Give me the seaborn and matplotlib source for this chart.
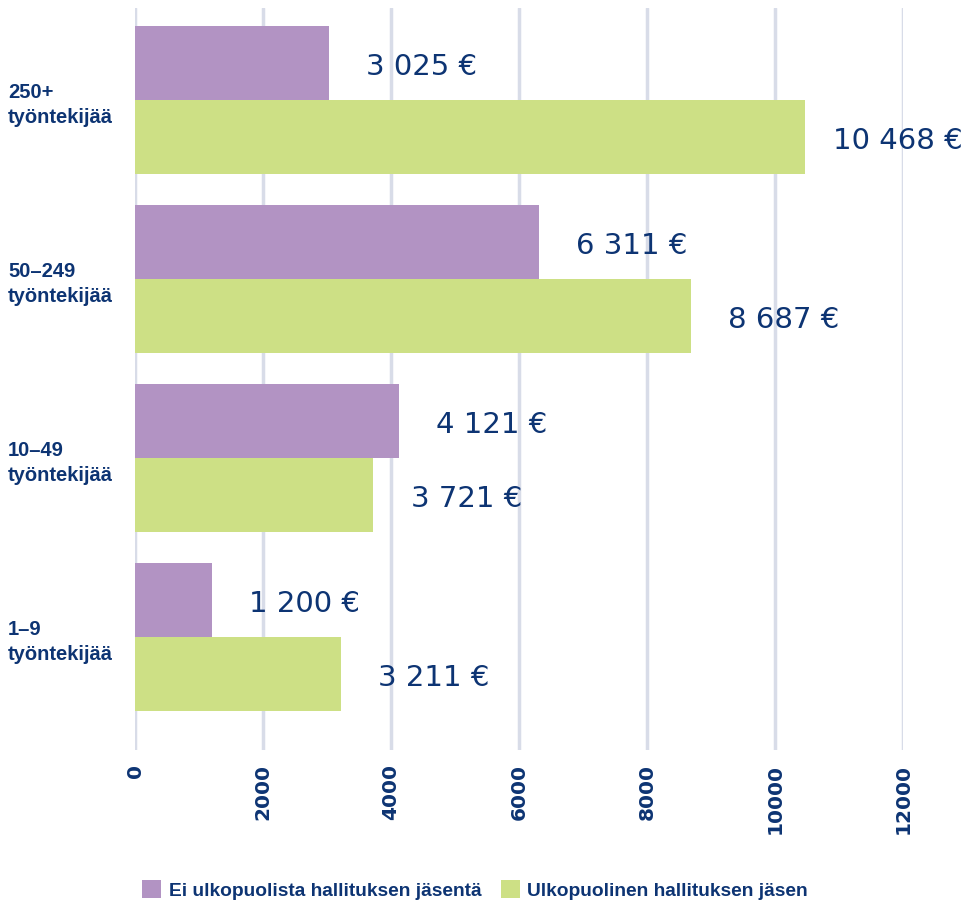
import matplotlib
matplotlib.use("Agg")
import matplotlib.pyplot as plt
from matplotlib.patches import Patch
import seaborn as sns
import pandas as pd

categories = ["250+\ntyöntekijää", "50–249\ntyöntekijää", "10–49\ntyöntekijää", "1–9\ntyöntekijää"]
series_names = ["Ei ulkopuolista hallituksen jäsentä", "Ulkopuolinen hallituksen jäsen"]
no_outside = [3025, 6311, 4121, 1200]
with_outside = [10468, 8687, 3721, 3211]
x_ticks = [0, 2000, 4000, 6000, 8000, 10000, 12000]

colors = ["#b293c3", "#cde085"]
navy = "#0d3473"
grid_col = "#d8dce8"

df = pd.DataFrame({
    "category": categories * 2,
    "series": [series_names[0]] * 4 + [series_names[1]] * 4,
    "value": no_outside + with_outside,
})

sns.set_theme(style="white")
label_font = ["Liberation Sans", "DejaVu Sans"]

fig = plt.figure(figsize=(9.78, 9.05), dpi=100)
ax = fig.add_axes([135 / 978, 1 - 750 / 905, (903 - 135) / 978, (750 - 8) / 905])

for x in x_ticks:
    ax.axvline(x, color=grid_col, lw=2.5, zorder=0)

sns.barplot(data=df, x="value", y="category", hue="series", order=categories,
            hue_order=series_names, palette=colors, orient="h", width=0.83,
            saturation=1, ax=ax, legend=False, zorder=2, linewidth=0)

def fmt(v):
    return f"{v:,}".replace(",", " ") + " €"

# value labels centred a fixed distance past the end of each bar
for cont, vals in zip(ax.containers, [no_outside, with_outside]):
    for bar, v in zip(cont, vals):
        yc = bar.get_y() + bar.get_height() / 2
        ax.annotate(fmt(v), xy=(v, yc), xytext=(67, -3), textcoords="offset points",
                    ha="center", va="center", fontsize=21, color=navy,
                    family="DejaVu Sans", annotation_clip=False)

ax.set_xlim(0, 12000)
ax.set_ylim(3.631, -0.514)
ax.set_xlabel("")
ax.set_ylabel("")
for s in ax.spines.values():
    s.set_visible(False)

ax.set_xticks(x_ticks)
ax.set_xticklabels([str(t) for t in x_ticks], rotation=90, fontsize=14.5,
                   fontweight="bold", color=navy, va="top", ha="center")
ax.tick_params(axis="x", length=0, pad=10)

ax.set_yticks(range(len(categories)))
ax.set_yticklabels(categories, fontsize=14.5, fontweight="bold", color=navy,
                   family=label_font, ha="left", linespacing=1.4)
ax.tick_params(axis="y", length=0, pad=127 * 0.72)

handles = [Patch(facecolor=c, edgecolor="none") for c in colors]
fig.legend(handles, series_names, loc="center", bbox_to_anchor=(475 / 978, 1 - 890 / 905),
           ncol=2, frameon=False, handlelength=1.0, handleheight=1.0, handletextpad=0.4,
           columnspacing=1.0, prop={"family": label_font, "weight": "bold", "size": 13.8},
           labelcolor=navy)

fig.savefig("out.png", dpi=100)
